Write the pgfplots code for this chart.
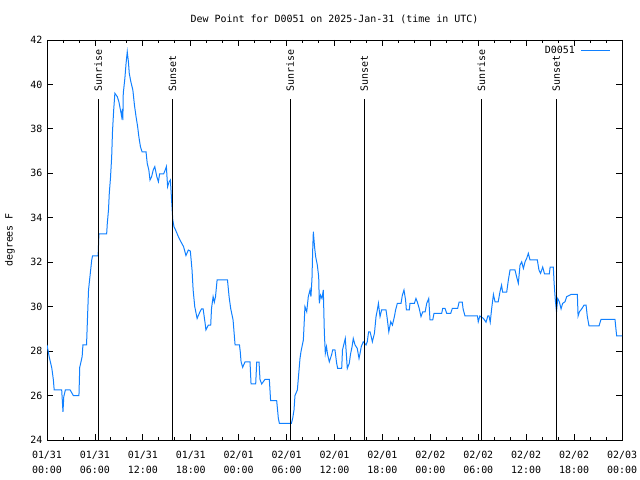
\documentclass[border=0pt]{standalone}
\usepackage{pgfplots}
\pgfplotsset{compat=1.18}
\usepackage{fontspec}
\setmainfont{DejaVu Sans Mono}
\definecolor{dpblue}{RGB}{16,128,255}
\begin{document}
\begin{tikzpicture}[font=\fontsize{10}{15}\selectfont]
\useasboundingbox (0,0) rectangle (640bp,480bp);
\begin{axis}[
  at={(47bp,40bp)}, anchor=south west,
  width=575bp, height=400bp, scale only axis,
  xmin=0, xmax=72, ymin=24, ymax=42,
  xtick={0,6,...,72},
  xticklabels={{01/31\\00:00},{01/31\\06:00},{01/31\\12:00},{01/31\\18:00},{02/01\\00:00},{02/01\\06:00},{02/01\\12:00},{02/01\\18:00},{02/02\\00:00},{02/02\\06:00},{02/02\\12:00},{02/02\\18:00},{02/03\\00:00}},
  minor x tick num=2,
  ytick={24,26,...,42},
  xtick pos=both, ytick pos=both,
  tick align=inside,
  major tick length=6bp, minor tick length=3bp,
  every tick/.style={black, line width=0.8bp},
  axis line style={black, line width=0.8bp},
  /pgf/number format/assume math mode=true,
  xticklabel style={align=center, font=\fontsize{10}{15}\selectfont, yshift=-8bp},
  yticklabel style={font=\fontsize{10}{12}\selectfont, xshift=-1bp},
  title={Dew Point for D0051 on 2025-Jan-31 (time in UTC)},
  title style={at={(axis description cs:0.5,1)}, anchor=center, yshift=15bp},
  ylabel={degrees F},
  every axis y label/.style={at={(axis description cs:-0.0643,0.5)}, rotate=90, anchor=center},
  legend style={draw=none, fill=none, at={(axis description cs:1,1)}, anchor=north east, xshift=-8bp, yshift=-2bp, font=\fontsize{10}{12}\selectfont, column sep=4bp},
  legend plot pos=right,
  legend image code/.code={\draw[#1] (0bp,0bp) -- (29bp,0bp);},
]
\addplot[dpblue, line width=1bp] coordinates {
(0.0,28.28) (0.3,27.7) (0.6,27.24) (0.8,26.7) (0.9,26.25) (1.84,26.25) (2.0,25.27) (2.1,25.95) (2.3,26.25) (2.9,26.25) (3.3,26.0) (4.0,26.0)
(4.1,27.27) (4.4,27.75) (4.5,28.28) (4.95,28.28) (5.0,28.77) (5.1,29.77) (5.2,30.75) (5.4,31.43) (5.6,32.1) (5.7,32.28) (6.4,32.28)
(6.5,33.27) (7.47,33.27) (7.55,33.75) (7.7,34.35) (7.8,35.1) (7.95,35.8) (8.1,36.75) (8.2,37.87) (8.35,38.85) (8.5,39.6) (8.8,39.45)
(9.0,39.22) (9.2,38.85) (9.35,38.55) (9.45,38.9) (9.5,38.4) (9.55,39.6) (9.75,40.27) (9.9,40.95) (10.05,41.47) (10.2,41.0) (10.3,40.5)
(10.5,40.12) (10.75,39.75) (10.95,39.07) (11.15,38.55) (11.35,38.1) (11.5,37.65) (11.7,37.2) (11.9,36.97) (12.4,36.97) (12.55,36.45)
(12.75,36.15) (12.9,35.7) (13.1,35.85) (13.3,36.15) (13.5,36.3) (13.75,35.85) (13.95,35.62) (14.1,35.97) (14.6,35.97) (14.8,36.15)
(14.95,36.3) (15.1,35.4) (15.3,35.62) (15.45,35.7) (15.6,34.8) (15.75,33.9) (15.9,33.6) (16.1,33.45) (16.45,33.15) (16.8,32.9)
(17.1,32.7) (17.4,32.3) (17.7,32.55) (17.95,32.5) (18.16,31.65) (18.3,30.75) (18.5,30.0) (18.8,29.47) (19.15,29.77) (19.35,29.9)
(19.55,29.9) (19.8,29.25) (19.9,28.95) (20.2,29.17) (20.5,29.17) (20.6,29.92) (20.8,30.45) (20.95,30.2) (21.1,30.45) (21.3,31.2)
(22.6,31.2) (22.8,30.45) (23.0,29.92) (23.3,29.4) (23.4,28.95) (23.55,28.28) (24.1,28.28) (24.2,27.97) (24.3,27.52) (24.5,27.27)
(24.8,27.52) (25.42,27.52) (25.55,26.52) (26.13,26.52) (26.26,27.5) (26.55,27.5) (26.67,26.73) (26.88,26.52) (27.3,26.73) (27.84,26.73)
(28.0,25.77) (28.76,25.77) (28.97,24.97) (29.1,24.75) (30.6,24.75) (30.76,24.97) (30.93,25.35) (31.05,26.0) (31.35,26.25) (31.47,26.77)
(31.68,27.67) (31.8,27.97) (32.1,28.5) (32.3,30.0) (32.52,29.77) (32.72,30.45) (32.93,30.75) (33.05,30.45) (33.18,31.27) (33.27,32.55)
(33.35,33.37) (33.5,32.7) (33.64,32.25) (33.85,31.87) (34.02,31.35) (34.1,30.15) (34.25,30.52) (34.43,30.37) (34.6,30.75) (34.73,28.8)
(34.85,27.9) (35.0,28.2) (35.13,27.85) (35.35,27.52) (35.65,27.85) (35.77,28.05) (36.06,28.05) (36.27,27.45) (36.4,27.22) (36.9,27.22)
(37.0,28.05) (37.2,28.35) (37.35,28.57) (37.45,28.05) (37.6,27.22) (37.85,27.45) (38.0,27.85) (38.2,28.2) (38.35,28.57) (38.57,28.28)
(38.85,28.12) (39.07,27.67) (39.2,27.9) (39.35,28.2) (39.6,28.42) (39.95,28.28) (40.1,28.42) (40.27,28.87) (40.45,28.87) (40.6,28.65)
(40.74,28.42) (41.0,28.8) (41.2,29.55) (41.36,29.85) (41.5,30.15) (41.7,29.55) (41.9,29.85) (42.45,29.85) (42.6,29.47) (42.8,28.87)
(43.04,29.32) (43.25,29.17) (43.5,29.55) (43.65,29.85) (43.87,30.15) (44.33,30.15) (44.5,30.52) (44.7,30.75) (44.9,30.3) (45.0,29.85)
(45.37,29.85) (45.45,30.15) (46.0,30.15) (46.2,30.37) (46.38,30.2) (46.62,29.9) (46.83,29.55) (47.05,29.77) (47.35,29.77) (47.55,30.15)
(47.8,30.37) (47.96,29.4) (48.3,29.4) (48.46,29.7) (49.42,29.7) (49.55,29.92) (49.84,29.92) (50.05,29.7) (50.55,29.7) (50.75,29.92)
(51.42,29.92) (51.6,30.2) (52.0,30.2) (52.1,29.9) (52.34,29.58) (53.9,29.58) (54.0,29.32) (54.2,29.58) (54.65,29.47) (54.97,29.3)
(55.2,29.58) (55.35,29.58) (55.5,29.3) (55.68,29.92) (55.9,30.55) (56.1,30.22) (56.5,30.22) (56.72,30.67) (56.92,30.97) (57.05,30.65)
(57.56,30.65) (57.77,31.2) (57.98,31.65) (58.6,31.65) (58.8,31.35) (59.02,31.05) (59.23,31.87) (59.44,32.02) (59.65,31.72) (59.86,32.02)
(60.06,32.17) (60.27,32.4) (60.48,32.1) (61.4,32.1) (61.6,31.65) (61.8,31.5) (62.07,31.78) (62.3,31.47) (62.9,31.47) (63.0,31.78)
(63.4,31.78) (63.5,31.05) (63.65,30.3) (63.8,29.77) (63.95,30.37) (64.15,30.22) (64.37,29.9) (64.57,30.15) (64.86,30.22) (65.07,30.45)
(65.61,30.55) (66.41,30.55) (66.5,29.58) (66.67,29.77) (66.95,29.9) (67.25,30.07) (67.5,30.07) (67.66,29.55) (67.87,29.13) (69.12,29.13)
(69.37,29.43) (71.12,29.43) (71.33,28.68) (72.0,28.68)
};
\addlegendentry{D0051}
\addplot[black, line width=0.8bp, forget plot] coordinates {(6.4,24) (6.4,39.35)};
\addplot[black, line width=0.8bp, forget plot] coordinates {(15.7,24) (15.7,39.35)};
\addplot[black, line width=0.8bp, forget plot] coordinates {(30.45,24) (30.45,39.35)};
\addplot[black, line width=0.8bp, forget plot] coordinates {(39.74,24) (39.74,39.35)};
\addplot[black, line width=0.8bp, forget plot] coordinates {(54.39,24) (54.39,39.35)};
\addplot[black, line width=0.8bp, forget plot] coordinates {(63.78,24) (63.78,39.35)};
\node[rotate=90, anchor=west, inner sep=0pt] at (axis cs:6.4,39.67) {Sunrise};
\node[rotate=90, anchor=west, inner sep=0pt] at (axis cs:15.7,39.67) {Sunset};
\node[rotate=90, anchor=west, inner sep=0pt] at (axis cs:30.45,39.67) {Sunrise};
\node[rotate=90, anchor=west, inner sep=0pt] at (axis cs:39.74,39.67) {Sunset};
\node[rotate=90, anchor=west, inner sep=0pt] at (axis cs:54.39,39.67) {Sunrise};
\node[rotate=90, anchor=west, inner sep=0pt] at (axis cs:63.78,39.67) {Sunset};
\end{axis}
\end{tikzpicture}
\end{document}
